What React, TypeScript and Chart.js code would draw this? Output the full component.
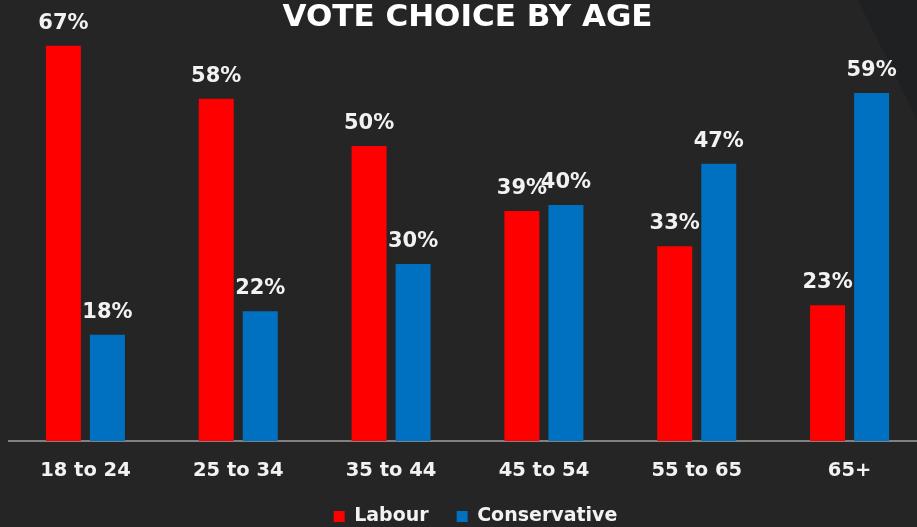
import React, { useEffect, useRef } from 'react';
import { Chart, registerables } from 'chart.js';

Chart.register(...registerables);

const categories = ['18 to 24', '25 to 34', '35 to 44', '45 to 54', '55 to 65', '65+'];
const labourValues = [67, 58, 50, 39, 33, 23];
const conservativeValues = [18, 22, 30, 40, 47, 59];
const seriesNames = ['Labour', 'Conservative'];
const titleText = 'VOTE CHOICE BY AGE';

const FONT = '"DejaVu Sans", "Open Sans", sans-serif';

const backgroundPlugin = {
  id: 'bg',
  beforeDraw(chart: any) {
    const { ctx, width, height } = chart;
    ctx.save();
    ctx.fillStyle = '#252525';
    ctx.fillRect(0, 0, width, height);
    ctx.fillStyle = '#1e2022';
    ctx.beginPath();
    ctx.moveTo(858, 0);
    ctx.lineTo(width, 0);
    ctx.lineTo(width, 150);
    ctx.lineTo(917, 120);
    ctx.closePath();
    ctx.fill();
    ctx.restore();
  },
};

const legendShiftPlugin = {
  id: 'legendShift',
  afterLayout(chart: any) {
    if (chart.legend) {
      chart.legend.left += 8;
      chart.legend.right += 8;
    }
  },
};

const valueLabelPlugin = {
  id: 'valueLabels',
  afterDatasetsDraw(chart: any) {
    const { ctx } = chart;
    ctx.save();
    ctx.font = `bold 21px ${FONT}`;
    ctx.fillStyle = '#f2f2f2';
    ctx.textAlign = 'center';
    ctx.textBaseline = 'alphabetic';
    chart.data.datasets.forEach((ds: any, i: number) => {
      const meta = chart.getDatasetMeta(i);
      meta.data.forEach((bar: any, j: number) => {
        ctx.fillText(`${ds.data[j]}%`, bar.x, bar.y - 17);
      });
    });
    ctx.restore();
  },
};

export default function App() {
  const ref = useRef<HTMLCanvasElement>(null);

  useEffect(() => {
    document.body.style.margin = '0';
    document.body.style.overflow = 'hidden';
    document.body.style.background = '#252525';
    if (!ref.current) return;
    const chart = new Chart(ref.current, {
      type: 'bar',
      data: {
        labels: categories,
        datasets: [
          {
            label: seriesNames[0],
            data: labourValues,
            backgroundColor: '#ff0000',
            borderWidth: 0,
            categoryPercentage: 0.576,
            barPercentage: 0.795,
          },
          {
            label: seriesNames[1],
            data: conservativeValues,
            backgroundColor: '#0070c0',
            borderWidth: 0,
            categoryPercentage: 0.576,
            barPercentage: 0.795,
          },
        ],
      },
      options: {
        responsive: false,
        animation: false,
        layout: { padding: { left: 9, right: 12, top: 0, bottom: 0 } },
        plugins: {
          title: {
            display: true,
            text: titleText,
            color: '#ffffff',
            font: { family: FONT, size: 31, weight: 'bold', lineHeight: 0.677 },
            padding: { top: 7, bottom: 0 },
          },
          legend: {
            position: 'bottom',
            labels: {
              color: '#f2f2f2',
              font: { family: FONT, size: 19, weight: 'bold' },
              boxWidth: 11,
              boxHeight: 11,
              padding: 28,
            },
          },
          tooltip: { enabled: false },
        },
        scales: {
          x: {
            grid: { display: false, drawTicks: false },
            border: { display: true, color: '#808080', width: 2 },
            ticks: {
              color: '#f2f2f2',
              font: { family: FONT, size: 19.5, weight: 'bold' },
              padding: 18,
            },
            afterFit: (scale: any) => {
              scale.height = 38;
            },
          },
          y: {
            display: false,
            min: 0,
            max: 70,
            grid: { display: false },
          },
        },
      } as any,
      plugins: [backgroundPlugin, legendShiftPlugin, valueLabelPlugin],
    });
    return () => chart.destroy();
  }, []);

  return (
    <div style={{ width: 917, height: 527, overflow: 'hidden' }}>
      <canvas ref={ref} width={938} height={536} style={{ display: 'block' }} />
    </div>
  );
}
